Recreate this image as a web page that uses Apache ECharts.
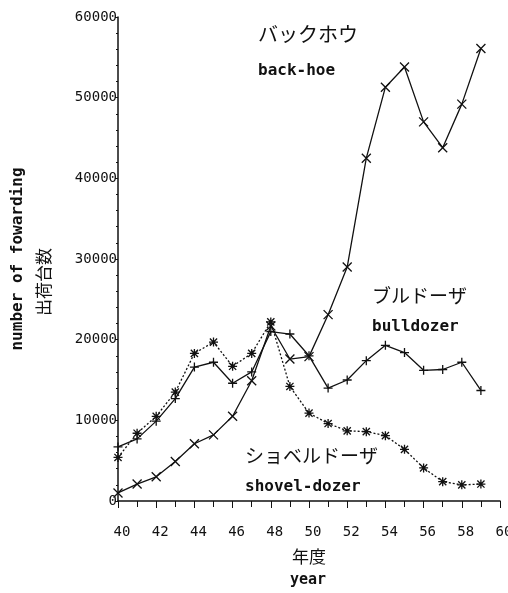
<!DOCTYPE html>
<html><head><meta charset="utf-8">
<script src="https://cdn.jsdelivr.net/npm/echarts@6/dist/echarts.min.js"></script>
<style>html,body{margin:0;padding:0;background:#fff}#c{width:508px;height:593px}</style>
</head><body><div id="c"></div>
<script>
const years = [40,41,42,43,44,45,46,47,48,49,50,51,52,53,54,55,56,57,58,59];
const backhoe = [1000,2100,3000,4900,7100,8200,10500,14900,21700,17600,17900,23100,29000,42500,51300,53800,47000,43800,49200,56100];
const bulldozer = [6700,7700,9900,12700,16600,17200,14600,16000,21000,20700,18000,14000,15000,17400,19300,18400,16200,16300,17200,13700];
const shovelDozer = [5400,8400,10500,13500,18300,19700,16700,18300,22200,14200,10900,9600,8700,8600,8100,6400,4100,2400,2000,2100];
const xTicks = {min:40, max:60, interval:2};
const yTicks = {min:0, max:60000, interval:10000};

const font = '"DejaVu Sans Mono", "Liberation Mono", monospace';
const jfont = '"Noto Sans CJK JP", sans-serif';
const pair = arr => years.map((y,i)=>[y,arr[i]]);
const symX = 'path://M0,0L10,10M10,0L0,10';
const symPlus = 'path://M5,0L5,10M0,5L10,5';
const symStar = 'path://M5,0L5,10M0,5L10,5M1,1L9,9M9,1L1,9';

const chart = echarts.init(document.getElementById('c'));
const mk = (name, data, sym, dotted) => ({
  name, type:'line', data: pair(data), symbol: sym, symbolSize: 9,
  showAllSymbol: true,
  lineStyle:{color:'#111', width:1.3, type: dotted ? [2,2] : 'solid'},
  itemStyle:{color:'none', borderColor:'#111', borderWidth:1.3},
  emphasis:{disabled:true}, animation:false
});
chart.setOption({
  animation:false,
  grid:{left:118, right:8, top:17, bottom:92, outerBoundsMode:'none', containLabel:false},
  xAxis:{type:'value', min:xTicks.min, max:xTicks.max, interval:xTicks.interval, offset:5,
    axisLine:{lineStyle:{color:'#111', width:1.5}},
    axisTick:{show:true, length:7, lineStyle:{color:'#111'}},
    minorTick:{show:true, splitNumber:2, length:6, lineStyle:{color:'#111'}},
    splitLine:{show:false},
    axisLabel:{color:'#111', fontFamily:font, fontSize:14, margin:19, padding:[0,0,0,8]},
    name:'年度', nameLocation:'middle', nameGap:42,
    nameTextStyle:{color:'#111', fontFamily:jfont, fontSize:17}
  },
  yAxis:{type:'value', min:yTicks.min, max:yTicks.max, interval:yTicks.interval,
    axisLine:{show:true, lineStyle:{color:'#111', width:1.5}},
    axisTick:{show:true, length:3, lineStyle:{color:'#111'}},
    minorTick:{show:true, splitNumber:5, length:2, lineStyle:{color:'#111'}},
    splitLine:{show:false},
    axisLabel:{color:'#111', fontFamily:font, fontSize:14, margin:1, formatter: v => String(v)},
    name:'number of fowarding', nameLocation:'middle', nameGap:90, nameRotate:90,
    nameTextStyle:{color:'#111', fontFamily:font, fontSize:16, lineHeight:20, fontWeight:'bold', align:'center'}
  },
  series:[
    mk('back-hoe', backhoe, symX, false),
    mk('bulldozer', bulldozer, symPlus, false),
    mk('shovel-dozer', shovelDozer, symStar, true)
  ],
  graphic:[
    {type:'text', x:44, y:282, rotation:Math.PI/2, style:{text:'出荷台数', font:'17px '+jfont, fill:'#111', textAlign:'center', textVerticalAlign:'middle'}},
    {type:'text', left:258, top:24, style:{text:'バックホウ', font:'20px '+jfont, fill:'#111'}},
    {type:'text', left:258, top:63, style:{text:'back-hoe', font:'bold 16px '+font, fill:'#111'}},
    {type:'text', left:372, top:286, style:{text:'ブルドーザ', font:'19px '+jfont, fill:'#111'}},
    {type:'text', left:372, top:319, style:{text:'bulldozer', font:'bold 16px '+font, fill:'#111'}},
    {type:'text', left:245, top:446, style:{text:'ショベルドーザ', font:'19px '+jfont, fill:'#111'}},
    {type:'text', left:245, top:479, style:{text:'shovel-dozer', font:'bold 16px '+font, fill:'#111'}},
    {type:'text', left:290, top:573, style:{text:'year', font:'bold 15px '+font, fill:'#111'}}
  ]
});
</script></body></html>
